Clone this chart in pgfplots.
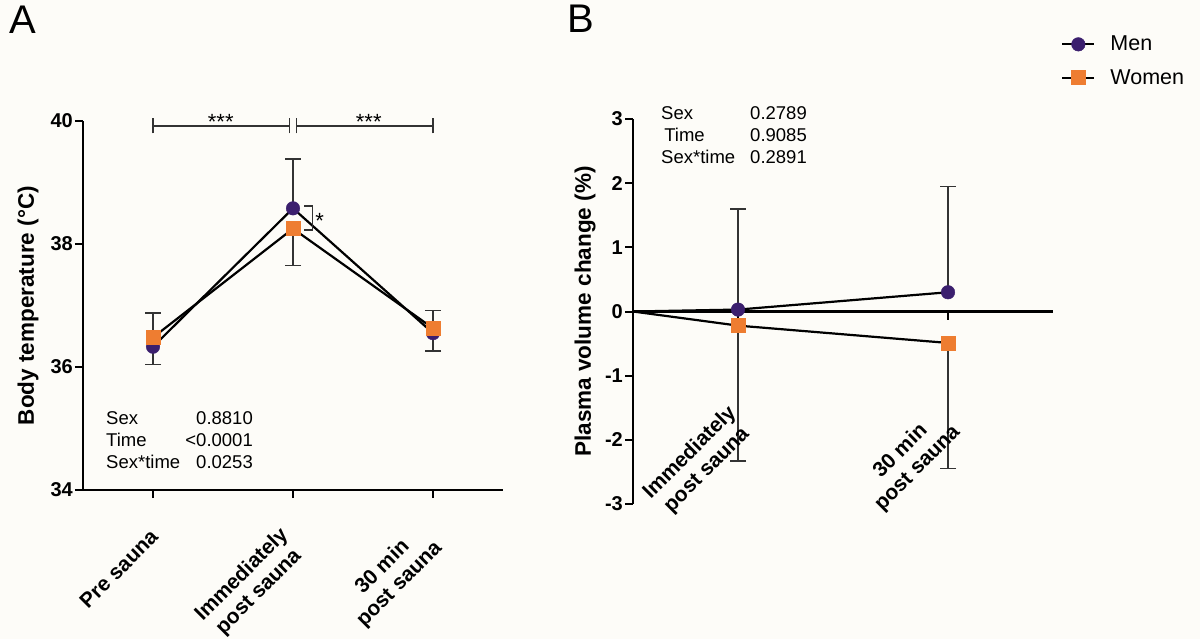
\documentclass[border=0pt]{standalone}
\usepackage{fontspec}
\setmainfont{Liberation Sans}
\usepackage{pgfplots}
\pgfplotsset{compat=1.18}
\definecolor{menc}{HTML}{3B1F6E}
\definecolor{womc}{HTML}{EE7D31}
\definecolor{bgc}{HTML}{FDFCF8}
\definecolor{errc}{HTML}{333333}
\pgfplotsset{
  myaxis/.style={
    scale only axis,
    clip=false,
    axis line style={line width=2.2pt,-},
    tick style={line width=2pt,black},
    major tick length=8pt,
    tick align=outside,
    /pgf/number format/assume math mode=true,
    tick label style={font=\fontsize{20}{22}\selectfont\bfseries},
    yticklabel style={anchor=east,inner sep=0pt,xshift=-2pt},
    xticklabels={},
  },
  upbar/.style={only marks,mark=none,errc,forget plot,
    error bars/.cd,y dir=plus,y explicit,error mark=-,
    error bar style={draw=errc,line width=1.5pt},
    error mark options={draw=errc,line width=1.5pt,mark size=8pt,rotate=90}},
  downbar/.style={only marks,mark=none,errc,forget plot,
    error bars/.cd,y dir=minus,y explicit,error mark=-,
    error bar style={draw=errc,line width=1.5pt},
    error mark options={draw=errc,line width=1.5pt,mark size=8pt,rotate=90}},
  menline/.style={black,line width=2.2pt,mark=*,mark size=6.8pt,
    mark options={solid,fill=menc,draw=menc,line width=0.4pt}},
  womline/.style={black,line width=2.2pt,mark=square*,mark size=7pt,
    mark options={solid,fill=womc,draw=womc,line width=0.4pt}},
}
\tikzset{xlab/.style={rotate=45,anchor=north east,align=center,inner sep=0pt,
  font=\fontsize{21}{24}\selectfont\bfseries},
  stat/.style={inner sep=0pt,font=\fontsize{18.5}{22}\selectfont}}
\begin{document}
\begin{tikzpicture}
\path[use as bounding box] (0,0) rectangle (1200pt,-639pt);
\fill[bgc] (0,0) rectangle (1200pt,-639pt);
\node[anchor=base west,inner sep=0pt,font=\fontsize{40}{44}\selectfont] at (9pt,-34pt) {A};
\node[anchor=base west,inner sep=0pt,font=\fontsize{40}{44}\selectfont] at (567pt,-33pt) {B};

% ---------------- Panel A
\begin{axis}[myaxis,
  at={(83pt,-490pt)},anchor=south west,
  width=420pt,height=369pt,
  xmin=-0.5,xmax=2.5,ymin=34,ymax=40,
  axis x line*=bottom,axis y line*=left,
  ytick={34,36,38,40},
  xtick={0,1,2},
  ylabel={Body temperature (°C)},
  every axis y label/.style={at={(rel axis cs:-0.131,0.5)},rotate=90,anchor=center,
    font=\fontsize{22.5}{26}\selectfont\bfseries},
]
\addplot[upbar] table[x=x,y=y,y error=e] {
x y e
0 36.48 0.40
1 38.58 0.80
2 36.63 0.29
};
\addplot[downbar] table[x=x,y=y,y error=e] {
x y e
0 36.33 0.29
1 38.25 0.60
2 36.55 0.29
};
\addplot[menline] coordinates {(0,36.33) (1,38.58) (2,36.55)};
\addplot[womline] coordinates {(0,36.48) (1,38.25) (2,36.63)};
% significance brackets
\draw[line width=1.5pt,errc] (axis cs:0,39.80)--(axis cs:0,40.05)
  (axis cs:0,39.92)--(axis cs:0.975,39.92)
  (axis cs:0.975,39.80)--(axis cs:0.975,40.05);
\draw[line width=1.5pt,errc] (axis cs:1.025,39.80)--(axis cs:1.025,40.05)
  (axis cs:1.025,39.92)--(axis cs:2,39.92)
  (axis cs:2,39.80)--(axis cs:2,40.05);
\node[anchor=base,font=\fontsize{22}{24}\selectfont] at (axis cs:0.484,39.86) {***};
\node[anchor=base,font=\fontsize{22}{24}\selectfont] at (axis cs:1.541,39.86) {***};
\draw[line width=1.5pt,errc] (axis cs:1.08,38.62)--(axis cs:1.14,38.62)--(axis cs:1.14,38.23)--(axis cs:1.08,38.23);
\node[anchor=base,font=\fontsize{22}{24}\selectfont] at (axis cs:1.19,38.25) {*};
\end{axis}

\node[xlab] at (149pt,-528pt) {Pre sauna};
\node[xlab] at (278pt,-525pt) {Immediately\\post sauna};
\node[xlab] at (415pt,-521pt) {30 min\\post sauna};

\node[stat,anchor=north west,align=left] at (106pt,-411pt) {Sex\\Time\\Sex*time};
\node[stat,anchor=north east,align=right] at (253pt,-411pt) {0.8810\\<0.0001\\0.0253};

% ---------------- Panel B
\begin{axis}[myaxis,
  at={(633pt,-504pt)},anchor=south west,
  width=420pt,height=385pt,
  xmin=0,xmax=4,ymin=-3,ymax=3,
  axis x line*=middle,axis y line*=left,
  ytick={-3,-2,-1,0,1,2,3},
  xtick={1,3},
  ylabel={Plasma volume change (\%)},
  every axis y label/.style={at={(rel axis cs:-0.114,0.5)},rotate=90,anchor=center,
    font=\fontsize{22.5}{26}\selectfont\bfseries},
  legend style={at={(rel axis cs:1.012,1.226)},anchor=north west,draw=none,fill=none,
    font=\fontsize{21.5}{24}\selectfont,row sep=13pt,
    /tikz/every odd column/.append style={column sep=13pt}},
  legend cell align=left,
  legend image code/.code={\draw[#1,mark=none] (0pt,0pt)--(32pt,0pt);
    \path[#1,draw=none] plot coordinates {(16pt,0pt)};},
]
\addplot[upbar] table[x=x,y=y,y error=e] {
x y e
1 0.03 1.57
3 0.30 1.65
};
\addplot[downbar] table[x=x,y=y,y error=e] {
x y e
1 -0.22 2.11
3 -0.49 1.96
};
\addplot[black,line width=2.2pt,forget plot] coordinates {(0,0) (1,0.03)};
\addplot[black,line width=2.2pt,forget plot] coordinates {(0,0) (1,-0.22)};
\addplot[menline] coordinates {(1,0.03) (3,0.30)};
\addplot[womline] coordinates {(1,-0.22) (3,-0.49)};
\legend{Men,Women}
\end{axis}

\node[xlab] at (726pt,-403pt) {Immediately\\post sauna};
\node[xlab] at (933pt,-405pt) {30 min\\post sauna};

\node[stat,anchor=north west,align=left] at (661pt,-106pt) {Sex\\\,Time\\Sex*time};
\node[stat,anchor=north east,align=right] at (807pt,-106pt) {0.2789\\0.9085\\0.2891};
\end{tikzpicture}
\end{document}
